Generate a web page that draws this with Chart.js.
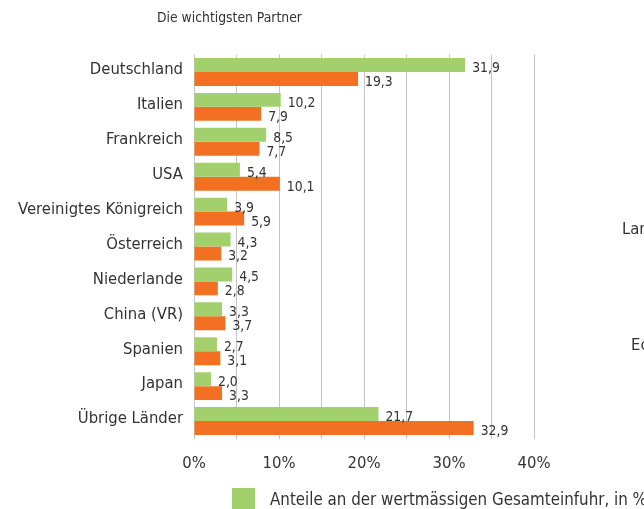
<!DOCTYPE html>
<html>
<head>
<meta charset="utf-8">
<script src="https://cdn.jsdelivr.net/npm/chart.js@4/dist/chart.umd.min.js"></script>
<style>
    html, body { margin: 0; padding: 0; background: #fff; overflow: hidden; }
</style>
</head>
<body>
<canvas id="c" width="644" height="509"></canvas>
<script>
// Partner countries, share of import (green) and export (orange) value, in %
const countries = ["Deutschland", "Italien", "Frankreich", "USA", "Vereinigtes Königreich",
    "Österreich", "Niederlande", "China (VR)", "Spanien", "Japan", "Übrige Länder"];
const einfuhr = [31.9, 10.2, 8.5, 5.4, 3.9, 4.3, 4.5, 3.3, 2.7, 2.0, 21.7];
const ausfuhr = [19.3, 7.9, 7.7, 10.1, 5.9, 3.2, 2.8, 3.7, 3.1, 3.3, 32.9];
const seriesLabels = ["Anteile an der wertmässigen Gesamteinfuhr, in %",
    "Anteile an der wertmässigen Gesamtausfuhr, in %"];
const title = "Die wichtigsten Partner";
// fragments of the neighbouring panel, cut off at the right edge
const strayTexts = ["Lan", "Ec"];

const FONT = '"DejaVu Sans Condensed", "Liberation Sans", sans-serif';
const GREEN = "#a2d06d";
const ORANGE = "#f36f21";
const TEXT = "#333333";

const fmt = (v) => v.toFixed(1).replace(".", ",");

// value labels right of each bar, baseline on the bar's lower edge
const valueLabels = {
    id: "valueLabels",
    afterDatasetsDraw(chart) {
        const ctx = chart.ctx;
        ctx.save();
        ctx.font = "13.8px " + FONT;
        ctx.fillStyle = TEXT;
        ctx.textAlign = "left";
        ctx.textBaseline = "alphabetic";
        chart.data.datasets.forEach((ds, i) => {
            chart.getDatasetMeta(i).data.forEach((bar, j) => {
                ctx.fillText(fmt(ds.data[j]), bar.x + 7, bar.y + bar.height / 2);
            });
        });
        ctx.restore();
    },
};

// title, legend and cut-off texts drawn by hand
const extras = {
    id: "extras",
    afterDraw(chart) {
        const ctx = chart.ctx;
        ctx.save();
        ctx.textBaseline = "alphabetic";
        ctx.textAlign = "left";
        ctx.fillStyle = TEXT;
        ctx.font = "13.8px " + FONT;
        ctx.fillText(title, 157, 21.5);

        ctx.font = "16.5px " + FONT;
        ctx.fillText(strayTexts[0], 622, 234);
        ctx.fillText(strayTexts[1], 631, 350);

        ctx.font = "16.8px " + FONT;
        chart.data.datasets.forEach((ds, i) => {
            const y = 488 + i * 30;
            ctx.fillStyle = ds.backgroundColor;
            ctx.fillRect(232, y, 23, 23);
            ctx.fillStyle = TEXT;
            ctx.fillText(ds.label, 270, y + 17);
        });
        ctx.restore();
    },
};

new Chart(document.getElementById("c"), {
    type: "bar",
    data: {
        labels: countries,
        datasets: [
            { label: seriesLabels[0], data: einfuhr, backgroundColor: GREEN },
            { label: seriesLabels[1], data: ausfuhr, backgroundColor: ORANGE },
        ],
    },
    options: {
        indexAxis: "y",
        responsive: false,
        animation: false,
        events: [],
        barPercentage: 1.0,
        categoryPercentage: 0.8,
        layout: { padding: { top: 54.5, right: 110, left: 0, bottom: 0 } },
        plugins: {
            legend: { display: false },
            tooltip: { enabled: false },
        },
        scales: {
            x: {
                min: 0,
                max: 40,
                grid: { color: "#c4c4c4", lineWidth: 1, drawTicks: false },
                border: { display: false },
                ticks: {
                    stepSize: 5,
                    padding: 15,
                    color: TEXT,
                    font: { family: FONT, size: 16.5 },
                    maxRotation: 0,
                    autoSkip: false,
                    callback: (v) => (v % 10 === 0 ? v + "%" : ""),
                },
                afterFit: (s) => { s.height = 70.5; },
            },
            y: {
                grid: { display: false, drawTicks: false },
                border: { display: false },
                ticks: {
                    padding: 11,
                    labelOffset: -2,
                    color: TEXT,
                    font: { family: FONT, size: 16.5 },
                },
                afterFit: (s) => { s.width = 194; },
            },
        },
    },
    plugins: [valueLabels, extras],
});
</script>
</body>
</html>
